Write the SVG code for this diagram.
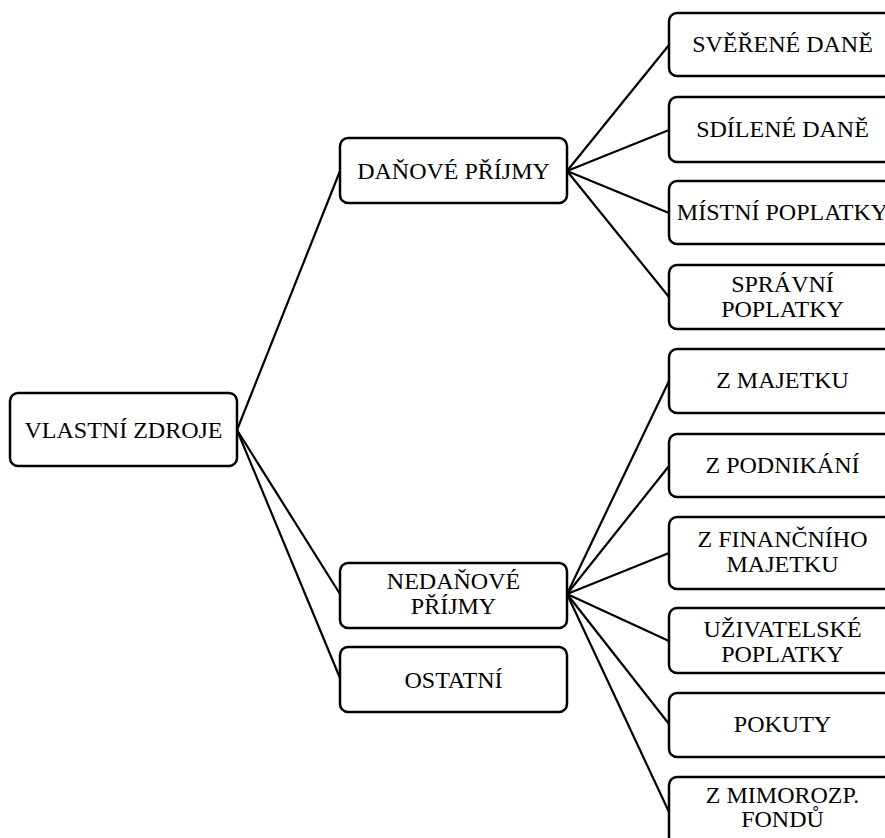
<svg xmlns="http://www.w3.org/2000/svg" width="885" height="838" viewBox="0 0 885 838">
<style>
.box{fill:#fff;stroke:#000;stroke-width:2.5}
.t{font-family:"Liberation Serif","Times New Roman",serif;font-size:24px;fill:#000;text-anchor:middle}
.c{stroke:#000;stroke-width:2.2;fill:none}
</style>
<rect width="885" height="838" fill="#fff"/>
<g id="connectors">
<line class="c" x1="237" y1="430" x2="340" y2="171"/>
<line class="c" x1="237" y1="430" x2="340" y2="594"/>
<line class="c" x1="237" y1="430" x2="340" y2="678"/>
<line class="c" x1="567" y1="171" x2="669" y2="45"/>
<line class="c" x1="567" y1="171" x2="669" y2="130"/>
<line class="c" x1="567" y1="171" x2="669" y2="213"/>
<line class="c" x1="567" y1="171" x2="669" y2="297"/>
<line class="c" x1="567" y1="594" x2="669" y2="381"/>
<line class="c" x1="567" y1="594" x2="669" y2="466"/>
<line class="c" x1="567" y1="594" x2="669" y2="553"/>
<line class="c" x1="567" y1="594" x2="669" y2="641"/>
<line class="c" x1="567" y1="594" x2="669" y2="724"/>
<line class="c" x1="567" y1="594" x2="669" y2="812"/>
</g>
<g id="vlastni-zdroje"><rect class="box" x="10" y="393" width="227" height="73" rx="8"/><text class="t" x="123.5" y="438">VLASTNÍ ZDROJE</text></g>
<g id="danove-prijmy"><rect class="box" x="340" y="138" width="227" height="65" rx="8"/><text class="t" x="453.5" y="179">DAŇOVÉ PŘÍJMY</text></g>
<g id="nedanove-prijmy"><rect class="box" x="340" y="563" width="227" height="65" rx="8"/><text class="t" x="453.5" y="589">NEDAŇOVÉ</text><text class="t" x="453.5" y="614">PŘÍJMY</text></g>
<g id="ostatni"><rect class="box" x="340" y="647" width="227" height="65" rx="8"/><text class="t" x="453.5" y="688">OSTATNÍ</text></g>
<g id="sverene-dane"><rect class="box" x="669" y="13" width="227" height="63" rx="8"/><text class="t" x="782.5" y="52">SVĚŘENÉ DANĚ</text></g>
<g id="sdilene-dane"><rect class="box" x="669" y="97" width="227" height="65" rx="8"/><text class="t" x="782.5" y="137">SDÍLENÉ DANĚ</text></g>
<g id="mistni-poplatky"><rect class="box" x="669" y="181" width="227" height="63" rx="8"/><text class="t" x="782.5" y="220">MÍSTNÍ POPLATKY</text></g>
<g id="spravni-poplatky"><rect class="box" x="669" y="265" width="227" height="64" rx="8"/><text class="t" x="782.5" y="292">SPRÁVNÍ</text><text class="t" x="782.5" y="317">POPLATKY</text></g>
<g id="z-majetku"><rect class="box" x="669" y="349" width="227" height="64" rx="8"/><text class="t" x="782.5" y="388">Z MAJETKU</text></g>
<g id="z-podnikani"><rect class="box" x="669" y="434" width="227" height="63" rx="8"/><text class="t" x="782.5" y="473">Z PODNIKÁNÍ</text></g>
<g id="z-financniho-majetku"><rect class="box" x="669" y="517" width="227" height="72" rx="8"/><text class="t" x="782.5" y="547">Z FINANČNÍHO</text><text class="t" x="782.5" y="572">MAJETKU</text></g>
<g id="uzivatelske-poplatky"><rect class="box" x="669" y="608" width="227" height="65" rx="8"/><text class="t" x="782.5" y="637">UŽIVATELSKÉ</text><text class="t" x="782.5" y="662">POPLATKY</text></g>
<g id="pokuty"><rect class="box" x="669" y="693" width="227" height="64" rx="8"/><text class="t" x="782.5" y="732">POKUTY</text></g>
<g id="z-mimorozp-fondu"><rect class="box" x="669" y="777" width="227" height="75" rx="8"/><text class="t" x="782.5" y="803">Z MIMOROZP.</text><text class="t" x="782.5" y="827">FONDŮ</text></g>
</svg>
